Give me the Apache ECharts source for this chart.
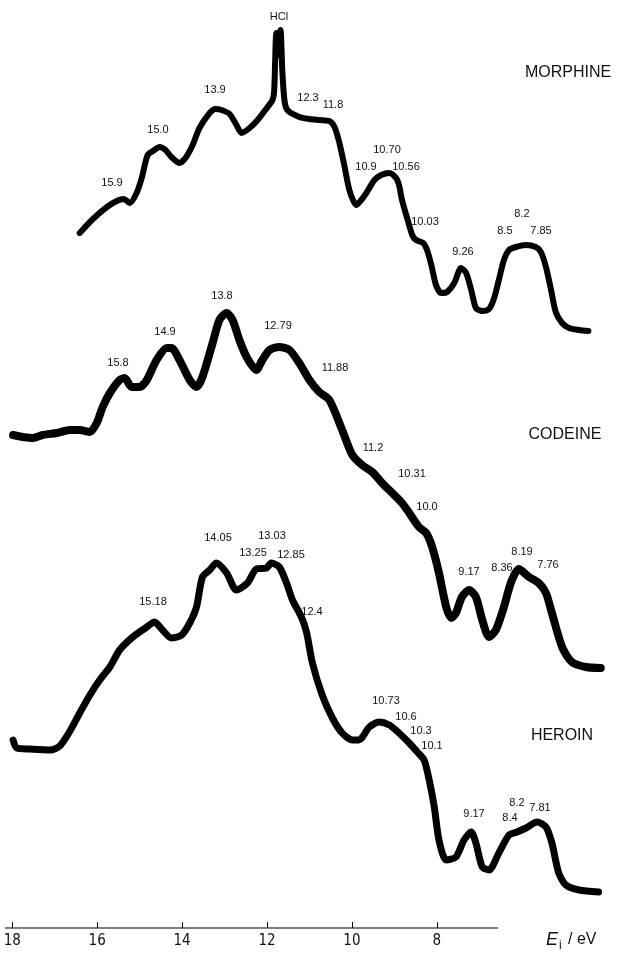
<!DOCTYPE html>
<html>
<head>
<meta charset="utf-8">
<script src="https://cdn.jsdelivr.net/npm/echarts@6/dist/echarts.min.js"></script>
<style>
html,body{margin:0;padding:0;background:#fff;}
#chart{width:637px;height:958px;}
</style>
</head>
<body>
<div id="chart"></div>
<script>
// Energy axis ticks (eV)
const tickValues = [18, 16, 14, 12, 10, 8];

// MORPHINE: energy (axis eV) and signal height (arbitrary units)
const morphineE = [16.41,16.10,15.77,15.54,15.37,15.23,15.07,14.95,14.81,14.65,14.53,14.39,14.25,14.06,13.92,13.75,13.59,13.35,13.21,13.07,12.88,12.72,12.60,12.41,12.22,12.04,11.87,11.83,11.78,11.73,11.68,11.64,11.59,11.52,11.24,11.00,10.77,10.53,10.41,10.30,10.18,10.06,9.90,9.78,9.66,9.47,9.31,9.12,8.96,8.89,8.82,8.70,8.58,8.49,8.32,8.23,8.13,8.02,7.90,7.76,7.59,7.43,7.31,7.19,7.08,6.93,6.77,6.65,6.54,6.42,6.30,6.14,5.90,5.67,5.55,5.43,5.31,5.20,5.05,4.89,4.65,4.43];
const morphineI = [695,709,721,727,729,725,735,750,773,778,781,778,771,765,770,783,800,815,819,818,814,803,795,800,808,818,828,838,895,873,898,858,828,818,811,809,808,807,801,786,763,738,723,728,735,748,753,755,750,743,728,710,693,688,685,678,663,643,635,636,645,660,655,638,620,617,619,630,648,668,678,681,683,681,676,661,638,616,605,600,598,597];

// CODEINE
const codeineE = [17.98,17.75,17.51,17.28,16.95,16.64,16.41,16.17,16.01,15.87,15.70,15.47,15.35,15.19,15.00,14.83,14.60,14.36,14.25,14.06,13.82,13.66,13.52,13.28,13.12,12.95,12.81,12.65,12.48,12.25,12.11,11.94,11.71,11.47,11.24,11.00,10.77,10.53,10.23,9.99,9.76,9.52,9.29,9.05,8.82,8.65,8.42,8.25,8.11,7.95,7.78,7.66,7.55,7.41,7.24,7.08,6.93,6.77,6.61,6.42,6.25,6.07,5.83,5.60,5.43,5.29,5.05,4.82,4.49,4.14];
const codeineI = [493,491,490,493,495,498,498,496,505,521,535,548,550,541,541,548,568,580,580,568,548,541,551,585,608,615,608,588,571,558,568,578,581,578,565,548,536,528,498,473,463,456,445,435,425,415,401,395,381,355,321,310,315,331,338,331,308,291,298,321,346,359,351,345,335,315,281,266,261,260];

// HEROIN
const heroinE = [17.98,17.89,17.58,17.11,16.88,16.64,16.41,16.17,15.94,15.70,15.47,15.16,14.83,14.65,14.46,14.25,14.01,13.82,13.66,13.52,13.35,13.19,12.95,12.72,12.46,12.25,12.01,11.90,11.71,11.54,11.40,11.19,11.07,10.93,10.70,10.46,10.23,9.99,9.83,9.59,9.36,9.12,8.89,8.65,8.46,8.30,8.18,8.06,7.95,7.78,7.55,7.36,7.19,7.08,6.93,6.77,6.54,6.30,6.11,5.90,5.64,5.43,5.29,5.13,4.96,4.65,4.19];
const heroinI = [188,180,179,178,182,197,215,233,248,261,278,291,301,306,298,290,293,305,321,351,358,365,355,338,345,359,360,365,361,345,328,311,296,265,233,210,195,188,188,201,206,203,195,185,176,168,148,121,88,68,71,88,96,85,61,58,75,93,96,100,106,101,85,55,43,38,36];

// Compound names and peak annotations
const compoundNames = ['MORPHINE', 'CODEINE', 'HEROIN'];
const morphinePeaks = ['HCl','13.9','15.0','15.9','12.3','11.8','10.9','10.70','10.56','10.03','9.26','8.2','8.5','7.85'];
const codeinePeaks = ['15.8','14.9','13.8','12.79','11.88','11.2','10.31','10.0','9.17','8.36','8.19','7.76'];
const heroinPeaks = ['15.18','14.05','13.03','13.25','12.85','12.4','10.73','10.6','10.3','10.1','9.17','8.4','8.2','7.81'];

// layout (pixel anchors of annotation text centres)
const morphinePos = [[279,17],[215,90],[158,130],[112,183],[308,98],[333,105],[366,167],[387,150],[406,167],[425,222],[463,252],[522,214],[505,231],[541,231]];
const codeinePos = [[118,363],[165,332],[222,296],[278,326],[335,368],[373,448],[412,474],[427,507],[469,572],[502,568],[522,552],[548,565]];
const heroinPos = [[153,602],[218,538],[272,536],[253,553],[291,555],[312,612],[386,701],[406,717],[421,731],[432,746],[474,814],[510,818],[517,803],[540,808]];
const namePos = [[568,73],[565,435],[562,736]];

const zip = (a, b) => a.map((v, i) => [v, b[i]]);
const FONT = '"Liberation Sans", Arial, sans-serif';

const graphics = [];
function addTexts(texts, pos, size) {
  texts.forEach((t, i) => {
    graphics.push({
      type: 'text', x: pos[i][0], y: pos[i][1],
      style: { text: t, fill: '#111', font: size + 'px ' + FONT, textAlign: 'center', textVerticalAlign: 'middle' },
      silent: true
    });
  });
}
addTexts(morphinePeaks, morphinePos, 11);
addTexts(codeinePeaks, codeinePos, 11);
addTexts(heroinPeaks, heroinPos, 11);
addTexts(compoundNames, namePos, 16);

// visible axis line (the printed axis stops short of the right end of the traces)
graphics.push({ type: 'line', shape: { x1: 5, y1: 928, x2: 498, y2: 928 }, style: { stroke: '#000', lineWidth: 1.2 }, silent: true });

// axis title  E_i / eV
graphics.push({ type: 'text', x: 546, y: 940, style: { text: 'E', fill: '#111', font: 'italic 18px ' + FONT, textVerticalAlign: 'middle' }, silent: true });
graphics.push({ type: 'text', x: 559, y: 946, style: { text: 'i', fill: '#111', font: '12px ' + FONT, textVerticalAlign: 'middle' }, silent: true });
graphics.push({ type: 'text', x: 568, y: 940, style: { text: '/ eV', fill: '#111', font: '16px ' + FONT, textVerticalAlign: 'middle' }, silent: true });

const lineSeries = (data, w) => ({
  type: 'line', data: data, showSymbol: false, symbol: 'none',
  smooth: 0.25, animation: false,
  lineStyle: { color: '#000', width: w, join: 'round', cap: 'round' }
});

const chart = echarts.init(document.getElementById('chart'), null, { renderer: 'canvas' });
chart.setOption({
  backgroundColor: '#fff',
  animation: false,
  grid: { left: 5, right: 0, top: 0, bottom: 30 },
  xAxis: {
    type: 'value', inverse: true, min: 3.286, max: 18.17,
    splitLine: { show: false },
    axisLine: { show: false },
    axisTick: { show: true, inside: true, length: 6, customValues: tickValues, lineStyle: { color: '#000', width: 1 } },
    axisLabel: { show: true, customValues: tickValues, margin: 6, color: '#111', fontSize: 15, fontFamily: '"DejaVu Sans Condensed", "Liberation Sans", sans-serif' }
  },
  yAxis: { type: 'value', min: 0, max: 928, show: false },
  series: [
    lineSeries(zip(morphineE, morphineI), 6),
    lineSeries(zip(codeineE, codeineI), 8),
    lineSeries(zip(heroinE, heroinI), 7)
  ],
  graphic: graphics
});
</script>
</body>
</html>
